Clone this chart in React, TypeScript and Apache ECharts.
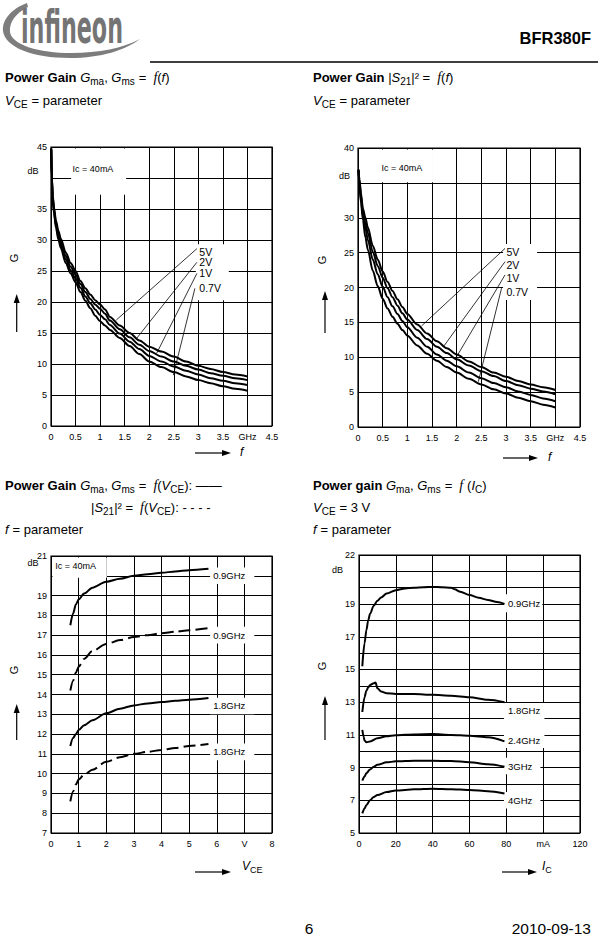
import React, { useEffect, useRef } from 'react';
import * as echarts from 'echarts';

const W = 598;
const H = 939;
const SANS = '"Liberation Sans", Arial, Helvetica, sans-serif';
const SERIF = '"Liberation Serif", "Times New Roman", serif';

// ---------- Chart 1: Power Gain Gma, Gms = f(f) ----------
const freqGma = [0.005, 0.017, 0.035, 0.06, 0.1, 0.15, 0.2, 0.3, 0.4, 0.5, 0.6, 0.7, 0.8, 0.9, 1.0, 1.1, 1.2, 1.4, 1.6, 1.8, 2.0, 2.25, 2.5, 2.75, 3.0, 3.25, 3.5, 3.75, 4.0];
const gma5V = [44.8, 40.2, 37.2, 35.3, 33.2, 31.5, 30.2, 28.0, 26.3, 25.0, 23.4, 22.2, 21.2, 20.3, 19.6, 18.8, 17.6, 16.2, 15.0, 13.8, 12.8, 12.0, 11.2, 10.4, 9.7, 9.2, 8.7, 8.3, 8.0];
const gma2V = [44.7, 40.0, 37.0, 35.0, 32.8, 31.0, 29.7, 27.4, 25.7, 24.4, 22.9, 21.6, 20.5, 19.6, 18.9, 18.1, 17.0, 15.6, 14.3, 13.1, 12.1, 11.2, 10.4, 9.7, 9.1, 8.5, 8.1, 7.7, 7.4];
const gma1V = [44.6, 39.8, 36.7, 34.7, 32.4, 30.6, 29.2, 26.9, 25.1, 23.8, 22.3, 20.9, 19.8, 18.8, 17.9, 17.2, 16.3, 14.9, 13.6, 12.4, 11.3, 10.4, 9.6, 8.9, 8.3, 7.7, 7.3, 6.9, 6.6];
const gma07V = [44.5, 39.6, 36.5, 34.4, 32.0, 30.1, 28.7, 26.3, 24.6, 23.2, 21.6, 20.2, 19.0, 17.8, 16.9, 16.2, 15.5, 14.2, 12.9, 11.6, 10.4, 9.5, 8.7, 8.0, 7.4, 6.9, 6.4, 6.0, 5.7];
const vceLabels = ['5V', '2V', '1V', '0.7V'];
const c1LabelY = [28.1, 26.4, 24.6, 22.2];
const c1Leaders = [
  [2.97, 28.6, 1.33, 17.1],
  [2.97, 26.4, 1.74, 14.1],
  [2.97, 24.6, 2.15, 11.7],
  [2.93, 22.2, 2.49, 8.2],
];

// ---------- Chart 2: Power Gain |S21|² = f(f) ----------
const freqS21 = [0.01, 0.03, 0.06, 0.1, 0.15, 0.2, 0.3, 0.4, 0.5, 0.6, 0.7, 0.8, 0.9, 1.0, 1.2, 1.4, 1.6, 1.8, 2.0, 2.25, 2.5, 2.75, 3.0, 3.25, 3.5, 3.75, 4.0];
const s21_5V = [36.9, 35.5, 33.5, 31.3, 30.0, 28.6, 26.0, 24.0, 22.3, 20.8, 19.5, 18.3, 17.2, 16.2, 14.7, 13.4, 12.3, 11.3, 10.4, 9.4, 8.6, 7.8, 7.2, 6.6, 6.1, 5.7, 5.3];
const s21_2V = [36.9, 35.2, 33.1, 30.8, 29.3, 27.8, 25.1, 23.1, 21.4, 19.9, 18.6, 17.4, 16.3, 15.4, 13.9, 12.6, 11.5, 10.6, 9.7, 8.8, 8.0, 7.3, 6.6, 6.0, 5.5, 5.1, 4.7];
const s21_1V = [36.8, 34.9, 32.7, 30.2, 28.6, 26.8, 24.0, 21.9, 20.1, 18.6, 17.3, 16.2, 15.2, 14.3, 12.8, 11.5, 10.4, 9.5, 8.7, 7.8, 7.0, 6.3, 5.7, 5.1, 4.6, 4.1, 3.7];
const s21_07V = [36.8, 34.5, 32.2, 29.7, 27.2, 25.4, 22.4, 20.2, 18.4, 17.0, 15.8, 14.8, 13.9, 13.1, 11.7, 10.5, 9.5, 8.6, 7.8, 6.9, 6.1, 5.4, 4.8, 4.2, 3.7, 3.2, 2.8];
const c2LabelY = [25.1, 23.2, 21.4, 19.4];
const c2Leaders = [
  [2.98, 25.6, 1.29, 14.5],
  [2.98, 23.7, 1.73, 11.5],
  [2.98, 21.8, 2.0, 10.1],
  [2.91, 19.9, 2.44, 6.5],
];

// ---------- Chart 3: G vs VCE ----------
const vce = [0.7, 0.8, 0.9, 1.0, 1.2, 1.5, 2.0, 2.5, 3.0, 3.5, 4.0, 4.5, 5.0, 5.7];
const gma09GHz = [17.5, 18.1, 18.55, 18.8, 19.1, 19.4, 19.7, 19.85, 20.0, 20.08, 20.15, 20.22, 20.28, 20.35];
const s21_09GHz = [14.2, 14.7, 15.1, 15.4, 15.8, 16.2, 16.55, 16.75, 16.9, 17.0, 17.1, 17.17, 17.25, 17.35];
const gma18GHz = [11.4, 11.8, 12.0, 12.2, 12.45, 12.7, 13.05, 13.28, 13.45, 13.55, 13.62, 13.68, 13.74, 13.82];
const s21_18GHz = [8.6, 9.1, 9.45, 9.7, 9.95, 10.2, 10.6, 10.83, 11.0, 11.1, 11.2, 11.3, 11.4, 11.5];
const c3Labels = ['0.9GHz', '0.9GHz', '1.8GHz', '1.8GHz'];
const c3LabelY = [20.0, 17.0, 13.42, 11.1];

// ---------- Chart 4: G vs IC ----------
const ic09 = [1.8, 3, 4, 5, 6, 8, 10, 12, 15, 20, 25, 30, 35, 40, 45, 50, 52, 55, 60, 65, 70, 75, 79];
const g09 = [15.2, 16.6, 17.4, 18.0, 18.4, 18.9, 19.2, 19.4, 19.65, 19.85, 19.95, 20.0, 20.03, 20.05, 20.03, 20.0, 19.9, 19.75, 19.55, 19.38, 19.25, 19.12, 19.0];
const ic18 = [1.8, 3, 4, 5, 6, 8, 9, 10, 12, 15, 20, 30, 40, 50, 60, 70, 79];
const g18 = [12.4, 13.3, 13.7, 13.9, 14.05, 14.15, 14.2, 13.85, 13.65, 13.55, 13.5, 13.5, 13.45, 13.4, 13.3, 13.15, 13.0];
const ic24 = [1.8, 2.5, 3, 4, 6, 10, 15, 20, 30, 40, 50, 60, 70, 79];
const g24 = [11.3, 10.9, 10.65, 10.55, 10.6, 10.8, 10.92, 10.98, 11.03, 11.05, 11.0, 10.95, 10.85, 10.6];
const ic3 = [1.8, 3, 4, 6, 8, 10, 15, 20, 30, 40, 50, 60, 70, 79];
const g3 = [8.2, 8.45, 8.65, 8.88, 9.05, 9.17, 9.32, 9.38, 9.42, 9.42, 9.4, 9.33, 9.2, 9.05];
const ic4 = [1.8, 3, 4, 6, 8, 10, 15, 20, 30, 40, 50, 60, 70, 79];
const g4 = [6.2, 6.5, 6.7, 7.0, 7.2, 7.32, 7.5, 7.6, 7.67, 7.71, 7.68, 7.63, 7.56, 7.42];
const c4Labels = ['0.9GHz', '1.8GHz', '2.4GHz', '3GHz', '4GHz'];
const c4LabelY = [19.04, 12.5, 10.67, 9.08, 7.0];

// ---------- Axes (tick definitions) ----------
const xAxesCfg = [
  { min: 0, max: 4.5, interval: 0.5, unitAt: 4, unit: 'GHz' },
  { min: 0, max: 4.5, interval: 0.5, unitAt: 4, unit: 'GHz' },
  { min: 0, max: 8, interval: 1, unitAt: 7, unit: 'V' },
  { min: 0, max: 120, interval: 20, unitAt: 100, unit: 'mA' },
];
const yAxesCfg = [
  { min: 0, max: 45, interval: 5, hide: [40] },
  { min: 0, max: 40, interval: 5, hide: [35] },
  { min: 7, max: 21, interval: 1, hide: [20] },
  { min: 5, max: 22, interval: 1, hide: [6, 8, 10, 12, 14, 16, 18, 20, 21] },
];

// ---------- Layout ----------
const grids = [
  { left: 51, top: 147, width: 221, height: 279 },
  { left: 358, top: 148, width: 222, height: 279 },
  { left: 51, top: 556, width: 221, height: 277 },
  { left: 359, top: 555, width: 221, height: 278 },
];

let mctx: CanvasRenderingContext2D | null = null;
function textWidth(t: string, font: string): number {
  if (!mctx) mctx = document.createElement('canvas').getContext('2d');
  if (!mctx) return t.length * 7;
  mctx.font = font;
  return mctx.measureText(t).width;
}

type Run = { t: string; s?: number; b?: boolean; i?: boolean; serif?: boolean; dy?: number; pre?: number };
const T = (t: string, o: Partial<Run> = {}): Run => ({ t, ...o });
const I = (t: string, o: Partial<Run> = {}): Run => ({ t, i: true, ...o });
const SUB = (t: string, s = 10): Run => ({ t, s, dy: 4 });
const FN = (pre = 6): Run => ({ t: 'f', i: true, serif: true, pre, s: 14 });

function richLine(x: number, y: number, runs: Run[], out: any[], baseSize = 13) {
  let cx = x;
  for (const r of runs) {
    cx += r.pre ?? 0;
    const size = r.s ?? baseSize;
    const fam = r.serif ? SERIF : SANS;
    const font = `${r.i ? 'italic ' : ''}${r.b ? 'bold ' : ''}${size}px ${fam}`;
    out.push({
      type: 'text',
      x: cx,
      y: y + (r.dy ?? 0),
      z: 10,
      silent: true,
      style: { text: r.t, font, fill: '#000', textAlign: 'left', textVerticalAlign: 'middle', verticalAlign: 'middle' },
    });
    cx += textWidth(r.t, font);
  }
}

function txt(x: number, y: number, text: string, font: string, align = 'left', extra: any = {}) {
  return {
    type: 'text', x, y, z: 10, silent: true, ...extra,
    style: { text, font, fill: '#000', textAlign: align, textVerticalAlign: 'middle', verticalAlign: 'middle' },
  };
}

function arrowUp(x: number, yBottom: number, yTop: number) {
  return [
    { type: 'line', z: 10, shape: { x1: x, y1: yBottom, x2: x, y2: yTop + 6 }, style: { stroke: '#000', lineWidth: 1.2 } },
    { type: 'polygon', z: 10, shape: { points: [[x - 3, yTop + 9], [x + 3, yTop + 9], [x, yTop]] }, style: { fill: '#000' } },
  ];
}
function arrowRight(xLeft: number, xRight: number, y: number) {
  return [
    { type: 'line', z: 10, shape: { x1: xLeft, y1: y, x2: xRight - 6, y2: y }, style: { stroke: '#000', lineWidth: 1.2 } },
    { type: 'polygon', z: 10, shape: { points: [[xRight - 9, y - 3], [xRight - 9, y + 3], [xRight, y]] }, style: { fill: '#000' } },
  ];
}

function curve(gi: number, xs: number[], ys: number[], dashed = false) {
  return {
    type: 'line',
    xAxisIndex: gi,
    yAxisIndex: gi,
    data: xs.map((x, i) => [x, ys[i]]),
    showSymbol: false,
    symbol: 'none',
    smooth: 0.3,
    smoothMonotone: 'x',
    silent: true,
    z: 3,
    lineStyle: { color: '#000', width: 2, type: dashed ? [12, 5] : 'solid' },
  };
}
function leader(gi: number, seg: number[]) {
  return {
    type: 'line',
    xAxisIndex: gi,
    yAxisIndex: gi,
    data: [[seg[0], seg[1]], [seg[2], seg[3]]],
    showSymbol: false,
    symbol: 'none',
    silent: true,
    z: 3,
    lineStyle: { color: '#000', width: 0.8 },
  };
}

function buildOption() {
  const xAxis = xAxesCfg.map((c, gi) => ({
    type: 'value', gridIndex: gi, min: c.min, max: c.max, interval: c.interval,
    axisLine: { show: false }, axisTick: { show: false },
    splitLine: { show: true, lineStyle: { color: '#000', width: 1 } },
    axisLabel: {
      fontSize: 9, color: '#000', fontFamily: SANS, margin: 6, hideOverlap: false,
      formatter: (v: number) => (Math.abs(v - c.unitAt) < 1e-9 ? c.unit : String(v)),
    },
  }));
  const yAxis = yAxesCfg.map((c, gi) => ({
    type: 'value', gridIndex: gi, min: c.min, max: c.max, interval: c.interval,
    axisLine: { show: false }, axisTick: { show: false },
    splitLine: { show: true, lineStyle: { color: '#000', width: 1 } },
    axisLabel: {
      fontSize: 9, color: '#000', fontFamily: SANS, margin: 4, hideOverlap: false,
      formatter: (v: number) => (c.hide.some((h) => Math.abs(h - v) < 1e-9) ? '' : String(v)),
    },
  }));
  const series: any[] = [
    curve(0, freqGma, gma5V), curve(0, freqGma, gma2V), curve(0, freqGma, gma1V), curve(0, freqGma, gma07V),
    ...c1Leaders.map((s) => leader(0, s)),
    curve(1, freqS21, s21_5V), curve(1, freqS21, s21_2V), curve(1, freqS21, s21_1V), curve(1, freqS21, s21_07V),
    ...c2Leaders.map((s) => leader(1, s)),
    curve(2, vce, gma09GHz), curve(2, vce, s21_09GHz, true), curve(2, vce, gma18GHz), curve(2, vce, s21_18GHz, true),
    curve(3, ic09, g09), curve(3, ic18, g18), curve(3, ic24, g24), curve(3, ic3, g3), curve(3, ic4, g4),
  ];
  return {
    animation: false,
    backgroundColor: '#fff',
    textStyle: { fontFamily: SANS },
    grid: grids.map((g) => ({ ...g, show: true, borderColor: '#000', borderWidth: 1.2, backgroundColor: 'transparent', containLabel: false, outerBoundsMode: 'none' })),
    xAxis,
    yAxis,
    series,
  };
}

function buildGraphics(chart: any) {
  const el: any[] = [];
  const px = (gi: number, x: number, y: number) => chart.convertToPixel({ gridIndex: gi }, [x, y]) as number[];
  const box = (gi: number, x0: number, y0: number, x1: number, y1: number) => {
    const a = px(gi, x0, y0);
    const b = px(gi, x1, y1);
    const g = grids[gi];
    let l = Math.min(a[0], b[0]);
    let r = Math.max(a[0], b[0]);
    let t = Math.min(a[1], b[1]);
    let bt = Math.max(a[1], b[1]);
    l = Math.max(l, g.left + 1.5);
    t = Math.max(t, g.top + 1.5);
    r = Math.min(r, g.left + g.width - 1.5);
    bt = Math.min(bt, g.top + g.height - 1.5);
    el.push({ type: 'rect', z: 1, silent: true, shape: { x: l, y: t, width: r - l, height: bt - t }, style: { fill: '#fff' } });
  };
  const dtext = (gi: number, x: number, y: number, text: string, size = 9.5) => {
    const p = px(gi, x, y);
    el.push(txt(p[0], p[1], text, `${size}px ${SANS}`));
  };

  // ----- Header -----
  el.push({ type: 'ifxSwoosh', x: 0, y: 0, z: 9, silent: true, style: { fill: '#7d7d7d' } });
  const logoFont = `bold 47px "DejaVu Sans Condensed", "DejaVu Sans", sans-serif`;
  const lw = textWidth('infineon', logoFont);
  el.push({
    type: 'text', x: 21, y: 27, z: 10, silent: true, scaleX: 102 / lw,
    style: { text: 'infineon', font: logoFont, fill: '#747474', textAlign: 'left', textVerticalAlign: 'middle', verticalAlign: 'middle' },
  });
  el.push(txt(591, 38, 'BFR380F', `bold 16.5px ${SANS}`, 'right'));
  el.push({ type: 'line', z: 10, shape: { x1: 150, y1: 62, x2: 598, y2: 62 }, style: { stroke: '#000', lineWidth: 1.5 } });

  // ----- Titles -----
  richLine(5, 77, [T('Power Gain ', { b: true }), I('G'), SUB('ma'), T(', '), I('G'), SUB('ms'), T('=', { pre: 4 }), FN(7), T('('), I('f'), T(')')], el);
  richLine(5, 100, [I('V'), SUB('CE'), T('= parameter', { pre: 4 })], el);
  richLine(313, 77, [T('Power Gain ', { b: true }), T('|'), I('S'), SUB('21'), T('|² ='), FN(7), T('('), I('f'), T(')')], el);
  richLine(313, 100, [I('V'), SUB('CE'), T('= parameter', { pre: 4 })], el);
  richLine(5, 485, [T('Power Gain ', { b: true }), I('G'), SUB('ma'), T(', '), I('G'), SUB('ms'), T('=', { pre: 4 }), FN(7), T('('), I('V'), SUB('CE'), T('): ——')], el);
  richLine(91, 507, [T('|'), I('S'), SUB('21'), T('|² ='), FN(7), T('('), I('V'), SUB('CE'), T('): - - - -')], el);
  richLine(5, 529, [I('f'), T('= parameter', { pre: 4 })], el);
  richLine(313, 485, [T('Power gain ', { b: true }), I('G'), SUB('ma'), T(', '), I('G'), SUB('ms'), T('=', { pre: 4 }), FN(7), T('(', { pre: 4 }), I('I'), SUB('C'), T(')')], el);
  richLine(313, 507, [I('V'), SUB('CE'), T('= 3 V', { pre: 4 })], el);
  richLine(313, 529, [I('f'), T('= parameter', { pre: 4 })], el);

  // ----- Chart 1 annotations -----
  box(0, 0.41, 45, 1.53, 37.3);
  dtext(0, 0.44, 41.4, 'Ic = 40mA', 9);
  box(0, 2.95, 29.3, 3.62, 20.3);
  vceLabels.forEach((t, i) => dtext(0, 3.02, c1LabelY[i], t, 10.5));
  el.push(txt(38.5, 171, 'dB', `9px ${SANS}`, 'right'));
  el.push(txt(13.5, 258, 'G', `11px ${SANS}`, 'center', { rotation: Math.PI / 2 }));
  el.push(...arrowUp(16.7, 332, 294));
  el.push(...arrowRight(195, 231, 453));
  el.push(txt(240, 452, 'f', `italic 12px ${SANS}`));

  // ----- Chart 2 annotations -----
  box(1, 0.44, 40, 1.52, 35.1);
  dtext(1, 0.475, 37.1, 'Ic = 40mA', 9);
  box(1, 2.94, 26.25, 3.63, 18.2);
  vceLabels.forEach((t, i) => dtext(1, 3.01, c2LabelY[i], t, 10.5));
  el.push(txt(350, 176, 'dB', `9px ${SANS}`, 'right'));
  el.push(txt(321.7, 260, 'G', `11px ${SANS}`, 'center', { rotation: Math.PI / 2 }));
  el.push(...arrowUp(325, 333, 291));
  el.push(...arrowRight(503, 538, 458));
  el.push(txt(548, 457, 'f', `italic 12px ${SANS}`));

  // ----- Chart 3 annotations -----
  box(2, 0, 21, 2.02, 19.9);
  dtext(2, 0.15, 20.5, 'Ic = 40mA', 9);
  c3LabelY.forEach((y, i) => {
    box(2, 5.76, y + 0.42, 7.36, y - 0.42);
    dtext(2, 5.87, y, c3Labels[i], 9.5);
  });
  el.push(txt(38.5, 563, 'dB', `9px ${SANS}`, 'right'));
  el.push(txt(13.5, 670, 'G', `11px ${SANS}`, 'center', { rotation: Math.PI / 2 }));
  el.push(...arrowUp(16.7, 740, 704));
  el.push(...arrowRight(195, 231, 872));
  richLine(242, 866, [I('V', { s: 12 }), SUB('CE', 9)], el, 12);

  // ----- Chart 4 annotations -----
  box(3, 78.7, 19.6, 99.5, 18.5);
  box(3, 78.7, 12.95, 100.7, 10.2);
  box(3, 78.7, 9.6, 98.5, 8.6);
  box(3, 78.7, 7.5, 98.5, 6.5);
  c4Labels.forEach((t, i) => dtext(3, 80.9, c4LabelY[i], t, 9.5));
  el.push(txt(343, 570, 'dB', `9px ${SANS}`, 'right'));
  el.push(txt(321.7, 666, 'G', `11px ${SANS}`, 'center', { rotation: Math.PI / 2 }));
  el.push(...arrowUp(325, 740, 696));
  el.push(...arrowRight(502, 537, 872));
  richLine(542, 866, [I('I', { s: 12 }), SUB('C', 9)], el, 12);

  // ----- Footer -----
  el.push(txt(309, 928, '6', `15.5px ${SANS}`, 'center'));
  el.push(txt(591, 928, '2010-09-13', `15.5px ${SANS}`, 'right'));
  return el;
}

let shapeRegistered = false;
function registerLogo() {
  if (shapeRegistered) return;
  const d = 'M27 3 C11 9 2 20 3 31 C5 47 32 58 70 58 C101 58 126 50 140 39 C123 48 99 53 71 53 C39 53 12 45 10 32 C9 22 16 13 28 7 Z';
  echarts.graphic.registerShape('ifxSwoosh', echarts.graphic.extendPath(d, {}) as any);
  shapeRegistered = true;
}

export default function App() {
  const ref = useRef<HTMLDivElement>(null);
  useEffect(() => {
    if (!ref.current) return;
    registerLogo();
    const chart = echarts.init(ref.current, null, { renderer: 'svg', width: W, height: H });
    chart.setOption(buildOption() as any);
    chart.setOption({ graphic: [{ elements: buildGraphics(chart) }] } as any);
    return () => chart.dispose();
  }, []);
  return <div ref={ref} style={{ position: 'absolute', left: 0, top: 0, width: W, height: H, background: '#fff' }} />;
}
